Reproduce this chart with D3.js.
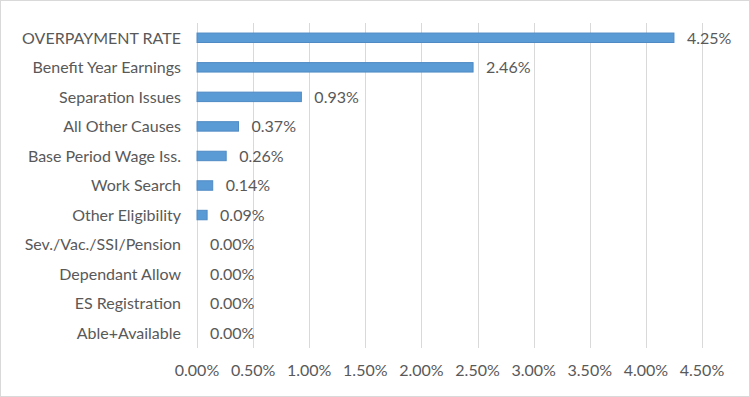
<!DOCTYPE html>
<html>
<head>
<meta charset="utf-8">
<script src="https://cdn.jsdelivr.net/npm/d3@7"></script>
<style>
  body { margin: 0; background: #fff; }
  svg { display: block; }
  text { font-family: Lato, "Open Sans", sans-serif; fill: #595959; }
</style>
</head>
<body>
<svg id="chart" width="750" height="397"></svg>
<script>
const categories = [
  "OVERPAYMENT RATE",
  "Benefit Year Earnings",
  "Separation Issues",
  "All Other Causes",
  "Base Period Wage Iss.",
  "Work Search",
  "Other Eligibility",
  "Sev./Vac./SSI/Pension",
  "Dependant Allow",
  "ES Registration",
  "Able+Available"
];
const values = [4.25, 2.46, 0.93, 0.37, 0.26, 0.14, 0.09, 0.00, 0.00, 0.00, 0.00];
const xTicks = [0, 0.5, 1, 1.5, 2, 2.5, 3, 3.5, 4, 4.5];

const svg = d3.select("#chart");
const W = 750, H = 397;
const margin = {top: 23, right: 48, bottom: 49, left: 197};
const width = W - margin.left - margin.right,
      height = H - margin.top - margin.bottom;
const fontSize = "16px";

// frame
svg.append("rect")
  .attr("x", 0.5).attr("y", 0.5)
  .attr("width", W - 1).attr("height", H - 1)
  .attr("fill", "#fff")
  .attr("stroke", "#d9d9d9");

const g = svg.append("g")
  .attr("transform", "translate(" + margin.left + "," + margin.top + ")");

const x = d3.scaleLinear().domain([0, 4.5]).range([0, width]);
const y = d3.scaleBand().domain(categories).range([0, height]).paddingInner(0.68).paddingOuter(0.34);

// gridlines
g.append("g")
  .selectAll("line")
  .data(xTicks)
  .enter().append("line")
  .attr("x1", function(d) { return Math.round(x(d)) + 0.5; })
  .attr("x2", function(d) { return Math.round(x(d)) + 0.5; })
  .attr("y1", 0)
  .attr("y2", height)
  .attr("stroke", "#d9d9d9")
  .attr("stroke-width", 1);

// x tick labels
g.append("g")
  .selectAll("text")
  .data(xTicks)
  .enter().append("text")
  .attr("x", function(d) { return x(d); })
  .attr("y", height + 28)
  .attr("text-anchor", "middle")
  .style("font-size", fontSize)
  .text(function(d) { return d.toFixed(2) + "%"; });

// bars
g.append("g")
  .selectAll("rect")
  .data(values)
  .enter().append("rect")
  .attr("x", x(0))
  .attr("y", function(d, i) { return y(categories[i]); })
  .attr("width", function(d) { return x(d) - x(0); })
  .attr("height", y.bandwidth())
  .attr("fill", "#5b9bd5")
  .attr("stroke", function(d) { return d > 0 ? "#4f8ac4" : "none"; })
  .attr("stroke-width", 1);

// value labels
g.append("g")
  .selectAll("text")
  .data(values)
  .enter().append("text")
  .attr("x", function(d) { return x(d) + 13; })
  .attr("y", function(d, i) { return y(categories[i]) + y.bandwidth() / 2; })
  .attr("dy", "0.36em")
  .style("font-size", fontSize)
  .text(function(d) { return d.toFixed(2) + "%"; });

// category labels
g.append("g")
  .selectAll("text")
  .data(categories)
  .enter().append("text")
  .attr("x", -16)
  .attr("y", function(d) { return y(d) + y.bandwidth() / 2; })
  .attr("dy", "0.36em")
  .attr("text-anchor", "end")
  .style("font-size", fontSize)
  .text(function(d) { return d; });
</script>
</body>
</html>
